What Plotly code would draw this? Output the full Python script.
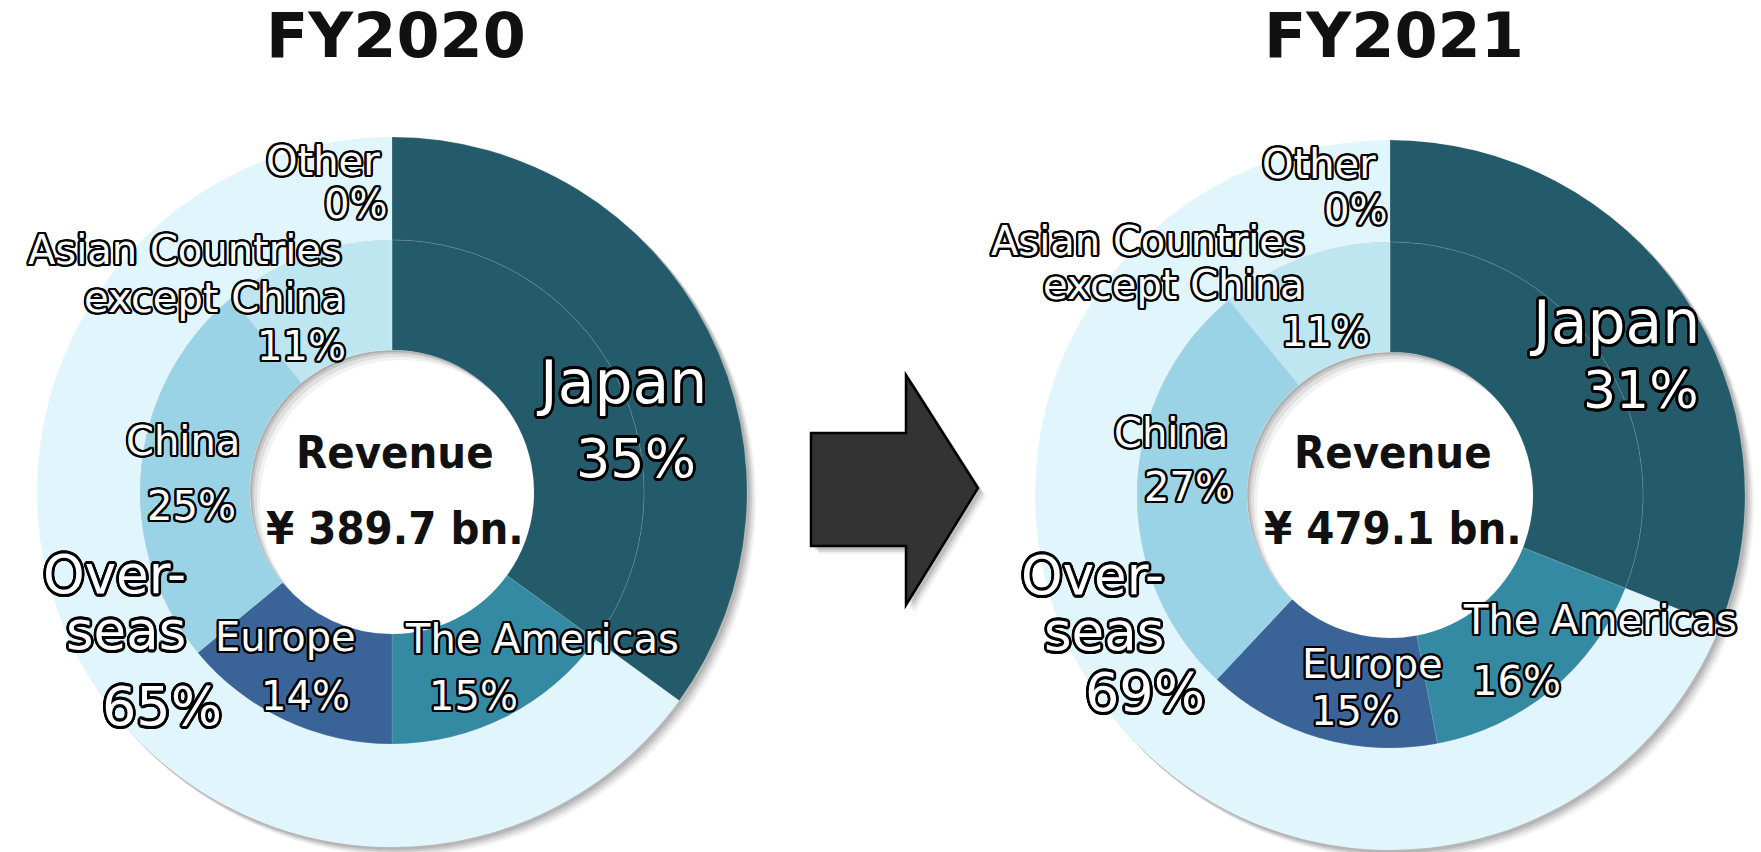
import math
import plotly.graph_objects as go

# ---- data -------------------------------------------------------------
years = ["FY2020", "FY2021"]
revenue_bn = [389.7, 479.1]

regions = ["Japan", "The Americas", "Europe", "China",
           "Asian Countries except China", "Other"]
share_fy2020 = [35, 15, 14, 25, 11, 0]
share_fy2021 = [31, 16, 15, 27, 11, 0]

split_labels = ["Japan", "Overseas"]
split_fy2020 = [35, 65]
split_fy2021 = [31, 69]

# ---- styling ------------------------------------------------------------
W, H = 1761, 852
region_colors = ["#245b6b", "#348aa2", "#3a6497", "#9ad3e6", "#bee6f1", "#d6eef6"]
split_colors = ["#245b6b", "#e1f5fc"]

LABEL_FONT = "DejaVu Sans"
TITLE_FONT = "DejaVu Sans"
CENTER_FONT = "DejaVu Sans Condensed, Roboto Condensed, DejaVu Sans"


def outline(w):
    parts = []
    for k in range(16):
        a = 2 * math.pi * k / 16
        parts.append(f"{w * math.cos(a):.2f}px {w * math.sin(a):.2f}px 0 #000")
    return ", ".join(parts)


def fx(x):
    return x / W


def fy(y):
    return 1 - y / H


# donut geometry in pixels: centre, outer radius, ring boundary, hole radius
donuts = [
    dict(cx=392, cy=492, r_out=355, r_mid=252, r_hole=142),
    dict(cx=1390, cy=495, r_out=355, r_mid=253, r_hole=143),
]

# label placement (pixels): key -> (x, y, xanchor, size)
label_pos = [
    {
        "Other": [(382, 161, "right", 40), (389, 204, "right", 40)],
        "Asian Countries except China": [(344, 250, "right", 40), (348, 298, "right", 40),
                                         (348, 346, "right", 40)],
        "China": [(183, 441, "center", 40), (191, 506, "center", 40)],
        "Europe": [(285, 637, "center", 40), (305, 696, "center", 40)],
        "The Americas": [(542, 639, "center", 40), (473, 696, "center", 40)],
        "Japan": [(621, 382, "center", 60), (636, 459, "center", 54)],
        "Overseas": [(188, 574, "right", 53), (188, 630, "right", 53), (162, 706, "center", 54)],
    },
    {
        "Other": [(1378, 164, "right", 40), (1389, 210, "right", 40)],
        "Asian Countries except China": [(1307, 241, "right", 40), (1307, 285, "right", 40),
                                         (1372, 332, "right", 40)],
        "China": [(1171, 433, "center", 40), (1188, 487, "center", 40)],
        "Europe": [(1372, 664, "center", 40), (1355, 711, "center", 40)],
        "The Americas": [(1600, 620, "center", 40), (1516, 681, "center", 40)],
        "Japan": [(1614, 322, "center", 60), (1641, 390, "center", 52)],
        "Overseas": [(1166, 575, "right", 53), (1166, 631, "right", 53), (1145, 692, "center", 54)],
    },
]

fig = go.Figure()
shapes = []
annotations = []


def add_text(text, x, y, xanchor, size):
    annotations.append(dict(
        text=text, x=fx(x), y=fy(y), xref="paper", yref="paper",
        xanchor=xanchor, yanchor="middle", showarrow=False,
        font=dict(family=LABEL_FONT, size=size, color="white",
                  shadow=outline(2.8 if size > 45 else 2.3)),
    ))


def crescent_path(cx, cy, r, d):
    """Sliver of the hole left uncovered by a copy shifted by (d, d)."""
    beta = math.acos(min(1.0, (d * math.sqrt(2) / 2) / r))
    pts = []
    n = 60
    a0, a1 = math.pi / 4 + beta, 2 * math.pi + math.pi / 4 - beta
    for k in range(n + 1):
        a = a0 + (a1 - a0) * k / n
        pts.append((cx + r * math.cos(a), cy + r * math.sin(a)))
    b0, b1 = 5 * math.pi / 4 + beta, 5 * math.pi / 4 - beta
    for k in range(n + 1):
        a = b0 + (b1 - b0) * k / n
        pts.append((cx + d + r * math.cos(a), cy + d + r * math.sin(a)))
    return "M " + " L ".join(f"{fx(x):.5f},{fy(y):.5f}" for x, y in pts) + " Z"


for i, (year, rev, shares, split) in enumerate(zip(
        years, revenue_bn, [share_fy2020, share_fy2021], [split_fy2020, split_fy2021])):
    g = donuts[i]
    cx, cy = g["cx"], g["cy"]

    # soft drop shadow behind the donut
    for k, op in [(9, 0.05), (7, 0.07), (5, 0.09), (3, 0.10)]:
        r = g["r_out"]
        shapes.append(dict(
            type="circle", xref="paper", yref="paper", layer="below",
            x0=fx(cx - r + k - 1), x1=fx(cx + r + k),
            y0=fy(cy + r + k), y1=fy(cy - r + k - 1),
            fillcolor=f"rgba(0,0,0,{op})", line=dict(width=0),
        ))
    # white centre, then a faint inner shadow along its upper-left rim
    rh = g["r_hole"]
    shapes.append(dict(
        type="circle", xref="paper", yref="paper", layer="below",
        x0=fx(cx - rh - 2), x1=fx(cx + rh + 2), y0=fy(cy + rh + 2), y1=fy(cy - rh - 2),
        fillcolor="white", line=dict(width=0),
    ))
    for d, op in [(10, 0.05), (7, 0.07), (4, 0.10), (2, 0.12)]:
        shapes.append(dict(type="path", xref="paper", yref="paper", layer="below",
                           path=crescent_path(cx, cy, rh, d),
                           fillcolor=f"rgba(0,0,0,{op})", line=dict(width=0)))

    # outer ring: Japan vs Overseas
    ro = g["r_out"]
    fig.add_trace(go.Pie(
        labels=split_labels, values=split, sort=False, direction="clockwise",
        rotation=0, hole=g["r_mid"] / ro,
        marker=dict(colors=split_colors, line=dict(color="rgba(255,255,255,0.12)", width=1)),
        textinfo="none", hoverinfo="label+percent", showlegend=False,
        domain=dict(x=[fx(cx - ro), fx(cx + ro)], y=[fy(cy + ro), fy(cy - ro)]),
    ))

    # inner ring: regional breakdown
    rm = g["r_mid"]
    fig.add_trace(go.Pie(
        labels=regions, values=shares, sort=False, direction="clockwise",
        rotation=0, hole=g["r_hole"] / rm,
        marker=dict(colors=region_colors, line=dict(color="rgba(255,255,255,0.12)", width=1)),
        textinfo="none", hoverinfo="label+percent", showlegend=False,
        domain=dict(x=[fx(cx - rm), fx(cx + rm)], y=[fy(cy + rm), fy(cy - rm)]),
    ))

    # year heading
    annotations.append(dict(
        text=f"<b>{year}</b>", x=fx(cx + 4), y=fy(36), xref="paper", yref="paper",
        xanchor="center", yanchor="middle", showarrow=False,
        font=dict(family=TITLE_FONT, size=62, color="#111111"),
    ))

    # centre caption
    annotations.append(dict(
        text="<b>Revenue</b>", x=fx(cx + 3), y=fy(453), xref="paper", yref="paper",
        xanchor="center", yanchor="middle", showarrow=False,
        font=dict(family=CENTER_FONT, size=45, color="#111111"),
    ))
    annotations.append(dict(
        text=f"<b>¥ {rev:.1f} bn.</b>", x=fx(cx + 3), y=fy(528), xref="paper", yref="paper",
        xanchor="center", yanchor="middle", showarrow=False,
        font=dict(family=CENTER_FONT, size=45, color="#111111"),
    ))

    # segment labels
    pos = label_pos[i]
    for name, share in zip(regions, shares):
        p = pos[name]
        if name == "Asian Countries except China":
            add_text("Asian Countries", *p[0])
            add_text("except China", *p[1])
            add_text(f"{share}%", *p[2])
        else:
            add_text(name, *p[0])
            add_text(f"{share}%", *p[1])
    p = pos["Overseas"]
    add_text("Over-", *p[0])
    add_text("seas", *p[1])
    add_text(f"{split[1]}%", *p[2])

# block arrow between the two years
arrow_pts = [(811, 433), (906, 433), (906, 375), (978, 488), (906, 605), (906, 546), (811, 546)]


def arrow_path(dx=0, dy=0):
    return "M " + " L ".join(f"{fx(x + dx):.5f},{fy(y + dy):.5f}" for x, y in arrow_pts) + " Z"


for k, op in [(8, 0.06), (6, 0.09), (4, 0.12)]:
    shapes.append(dict(type="path", xref="paper", yref="paper", path=arrow_path(k, k),
                       fillcolor=f"rgba(0,0,0,{op})", line=dict(width=0), layer="below"))
shapes.append(dict(type="path", xref="paper", yref="paper", path=arrow_path(),
                   fillcolor="#333333", line=dict(color="#000000", width=2.5), layer="above"))

fig.update_layout(
    width=W, height=H, autosize=False,
    margin=dict(l=0, r=0, t=0, b=0),
    paper_bgcolor="white", plot_bgcolor="white",
    showlegend=False,
    shapes=shapes, annotations=annotations,
)

fig.write_html("out.html", config={"displayModeBar": False})
